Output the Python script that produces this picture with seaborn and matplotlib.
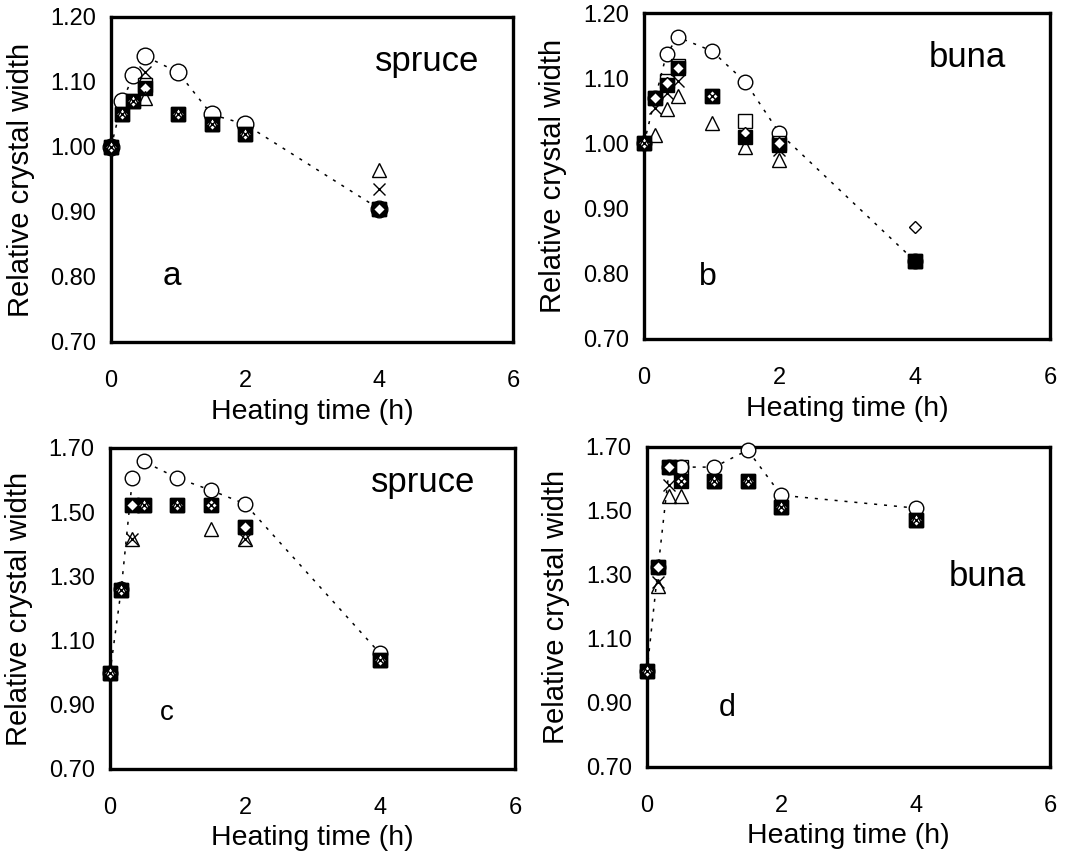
import matplotlib
matplotlib.use("Agg")
import matplotlib.pyplot as plt
import seaborn as sns
import pandas as pd

sns.set_style("white")
plt.rcParams["font.family"] = ["Liberation Sans", "DejaVu Sans"]
plt.rcParams["text.color"] = "black"
plt.rcParams["axes.labelcolor"] = "black"
plt.rcParams["xtick.color"] = "black"
plt.rcParams["ytick.color"] = "black"

# ---------------- data ----------------
times = [0, 1/6, 1/3, 0.5, 1, 1.5, 2, 4]

# panel a (spruce)
a_circle   = [1.00, 1.07, 1.11, 1.14, 1.115, 1.05, 1.035, 0.905]
a_filled   = [1.00, 1.05, 1.07, 1.09, 1.05, 1.035, 1.02, 0.905]
a_square   = [1.00, 1.05, 1.07, 1.095, 1.05, 1.035, 1.02, 0.905]
a_diamond  = [1.00, 1.05, 1.07, 1.09, 1.05, 1.035, 1.02, 0.905]
a_cross    = [1.00, 1.05, 1.07, 1.115, 1.05, 1.035, 1.02, 0.935]
a_triangle = [1.00, 1.05, 1.07, 1.075, 1.05, 1.035, 1.02, 0.965]

# panel b (buna)
b_circle   = [1.00, 1.07, 1.137, 1.163, 1.142, 1.094, 1.016, 0.82]
b_filled   = [1.00, 1.07, 1.09, 1.115, 1.072, 1.01, 0.997, 0.819]
b_square   = [1.00, 1.07, 1.096, 1.119, 1.072, 1.034, 1.00, 0.82]
b_diamond  = [1.00, 1.07, 1.093, 1.116, 1.072, 1.016, 1.00, 0.872]
b_cross    = [1.00, 1.055, 1.078, 1.096, 1.072, 1.008, 0.99, 0.82]
b_triangle = [1.00, 1.013, 1.052, 1.072, 1.032, 0.995, 0.975, 0.82]

# panel c (spruce)
c_circle   = [1.00, 1.26, 1.606, 1.658, 1.606, 1.568, 1.526, 1.06]
c_filled   = [1.00, 1.258, 1.523, 1.523, 1.523, 1.523, 1.453, 1.04]
c_square   = [1.00, 1.258, 1.523, 1.523, 1.523, 1.523, 1.453, 1.04]
c_diamond  = [1.00, 1.258, 1.523, 1.523, 1.523, 1.523, 1.453, 1.04]
c_cross    = [1.00, 1.258, 1.417, 1.523, 1.523, 1.523, 1.415, 1.04]
c_triangle = [1.00, 1.258, 1.417, 1.523, 1.523, 1.448, 1.415, 1.04]

# panel d (buna)
d_circle   = [1.00, 1.325, 1.637, 1.637, 1.637, 1.69, 1.549, 1.509]
d_filled   = [1.00, 1.325, 1.637, 1.593, 1.593, 1.593, 1.511, 1.472]
d_square   = [1.00, 1.325, 1.637, 1.637, 1.593, 1.593, 1.511, 1.472]
d_diamond  = [1.00, 1.325, 1.637, 1.593, 1.593, 1.593, 1.511, 1.472]
d_cross    = [1.00, 1.278, 1.582, 1.593, 1.593, 1.593, 1.511, 1.472]
d_triangle = [1.00, 1.267, 1.546, 1.546, 1.593, 1.593, 1.511, 1.472]

species = ["spruce", "buna", "spruce", "buna"]
letters = ["a", "b", "c", "d"]
x_ticks = [0, 2, 4, 6]
y_ticks_top = [0.70, 0.80, 0.90, 1.00, 1.10, 1.20]
y_ticks_bottom = [0.70, 0.90, 1.10, 1.30, 1.50, 1.70]
x_label = "Heating time (h)"
y_label = "Relative crystal width"

panels = [
    dict(circle=a_circle, filled=a_filled, square=a_square, diamond=a_diamond, cross=a_cross, triangle=a_triangle),
    dict(circle=b_circle, filled=b_filled, square=b_square, diamond=b_diamond, cross=b_cross, triangle=b_triangle),
    dict(circle=c_circle, filled=c_filled, square=c_square, diamond=c_diamond, cross=c_cross, triangle=c_triangle),
    dict(circle=d_circle, filled=d_filled, square=d_square, diamond=d_diamond, cross=d_cross, triangle=d_triangle),
]

# ---------------- layout / style ----------------
fig = plt.figure(figsize=(10.76, 8.61), dpi=100)
rects = [
    [0.1032, 0.6028, 0.3736, 0.3775],
    [0.5985, 0.6063, 0.3773, 0.3786],
    [0.1022, 0.1069, 0.3764, 0.3728],
    [0.6013, 0.1092, 0.3745, 0.3717],
]
species_pos = [(0.786, 0.862), (0.796, 0.865), (0.773, 0.894), (0.844, 0.594)]
letter_pos = [(0.152, 0.20), (0.158, 0.19), (0.141, 0.174), (0.199, 0.184)]
letter_size = [24, 23, 20, 22]

styles = {
    "filled":   dict(marker="s", ms=10.5, mfc="black", mec="black", mew=1.0),
    "square":   dict(marker="s", ms=10.5, mfc="none", mec="black", mew=1.0),
    "diamond":  dict(marker="D", ms=6, mfc="white", mec="black", mew=1.0),
    "cross":    dict(marker="x", ms=9, mfc="none", mec="black", mew=1.0),
    "triangle": dict(marker="^", ms=10, mfc="none", mec="black", mew=1.0),
}

tick_font = ["Liberation Sans Narrow", "Liberation Sans"]

for i, (rect, data) in enumerate(zip(rects, panels)):
    ax = fig.add_axes(rect)
    circ_ms = 12 if i == 0 else 10.5
    df = pd.DataFrame({"t": times, "v": data["circle"]})
    sns.lineplot(data=df, x="t", y="v", ax=ax, estimator=None, sort=False,
                 color="black", linestyle=(0, (2, 4.5)), linewidth=1.1,
                 marker="o", ms=circ_ms, mfc="white", mec="black", mew=1.0,
                 clip_on=False, zorder=3)
    for z, key in enumerate(["filled", "square", "diamond", "cross", "triangle"]):
        dfk = pd.DataFrame({"t": times, "v": data[key]})
        sns.lineplot(data=dfk, x="t", y="v", ax=ax, estimator=None, sort=False,
                     color="black", linestyle="none", clip_on=False,
                     zorder=4 + z, **styles[key])

    ax.set_xlim(0, 6)
    if i < 2:
        ax.set_ylim(0.70, 1.20)
        ax.set_yticks(y_ticks_top)
    else:
        ax.set_ylim(0.70, 1.70)
        ax.set_yticks(y_ticks_bottom)
    ax.set_xticks(x_ticks)
    ax.set_xticklabels([str(t) for t in x_ticks], family=tick_font, fontsize=17)
    ax.set_yticklabels([f"{v:.2f}" for v in ax.get_yticks()], family=tick_font, fontsize=17)
    ax.tick_params(axis="both", direction="in", length=4, width=0.8, color="black")
    ax.tick_params(axis="x", pad=20)
    ax.tick_params(axis="y", pad=11)

    for sp in ax.spines.values():
        sp.set_visible(True)
        sp.set_linewidth(2.4)
        sp.set_color("black")

    ax.set_xlabel(x_label, fontsize=20.5)
    ax.set_ylabel(y_label, fontsize=21)
    ax.xaxis.set_label_coords(0.5, -0.175)
    ax.yaxis.set_label_coords(-0.19, 0.5)

    ax.text(*species_pos[i], species[i], transform=ax.transAxes, fontsize=25,
            ha="center", va="center")
    ax.text(*letter_pos[i], letters[i], transform=ax.transAxes, fontsize=letter_size[i],
            ha="center", va="center")

fig.savefig("out.png", dpi=100, facecolor="white")
